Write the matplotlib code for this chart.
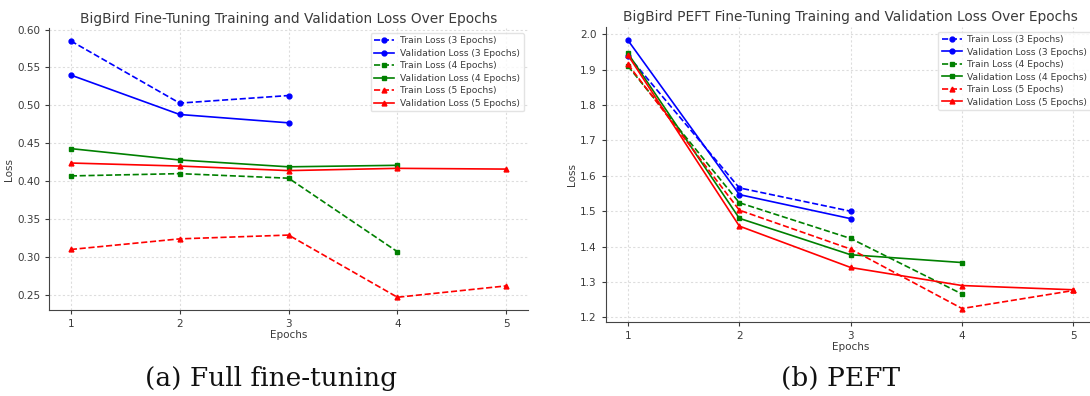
import matplotlib
matplotlib.use("Agg")
import matplotlib.pyplot as plt

epochs3 = [1, 2, 3]
epochs4 = [1, 2, 3, 4]
epochs5 = [1, 2, 3, 4, 5]

# (a) full fine-tuning
full_train3 = [0.585, 0.503, 0.513]
full_val3 = [0.540, 0.488, 0.477]
full_train4 = [0.407, 0.410, 0.404, 0.307]
full_val4 = [0.443, 0.428, 0.419, 0.421]
full_train5 = [0.310, 0.324, 0.329, 0.247, 0.262]
full_val5 = [0.424, 0.420, 0.414, 0.417, 0.416]

# (b) PEFT
peft_train3 = [1.940, 1.566, 1.500]
peft_val3 = [1.983, 1.547, 1.479]
peft_train4 = [1.910, 1.524, 1.423, 1.266]
peft_val4 = [1.946, 1.480, 1.377, 1.355]
peft_train5 = [1.915, 1.503, 1.393, 1.225, 1.276]
peft_val5 = [1.941, 1.458, 1.341, 1.290, 1.278]

text_col = '#3a3a3a'


def draw_panel(ax, title, t3, v3, t4, v4, t5, v5):
    ax.plot(epochs3, t3, 'o--', color='blue', ms=3.5, lw=1.2, label='Train Loss (3 Epochs)')
    ax.plot(epochs3, v3, 'o-', color='blue', ms=3.5, lw=1.2, label='Validation Loss (3 Epochs)')
    ax.plot(epochs4, t4, 's--', color='green', ms=3.5, lw=1.2, label='Train Loss (4 Epochs)')
    ax.plot(epochs4, v4, 's-', color='green', ms=3.5, lw=1.2, label='Validation Loss (4 Epochs)')
    ax.plot(epochs5, t5, '^--', color='red', ms=3.5, lw=1.2, label='Train Loss (5 Epochs)')
    ax.plot(epochs5, v5, '^-', color='red', ms=3.5, lw=1.2, label='Validation Loss (5 Epochs)')
    ax.set_title(title, fontsize=9.9, color=text_col, pad=4)
    ax.set_xlabel('Epochs', fontsize=7.5, color=text_col, labelpad=1)
    ax.set_ylabel('Loss', fontsize=7.5, color=text_col, labelpad=2)
    ax.set_xticks(epochs5)
    ax.set_xlim(0.8, 5.2)
    ax.tick_params(labelsize=7.5, colors=text_col, length=3, width=0.8)
    ax.grid(True, linestyle=(0, (2, 2)), color='#dddddd', linewidth=0.8)
    for s in ['top', 'right']:
        ax.spines[s].set_visible(False)
    for s in ['left', 'bottom']:
        ax.spines[s].set_color('#444444')
    leg = ax.legend(loc='upper right', fontsize=6.6, frameon=True, handlelength=2.2,
                    labelspacing=0.38, borderpad=0.4, handletextpad=0.6)
    leg.get_frame().set_edgecolor('#dddddd')
    for t in leg.get_texts():
        t.set_color(text_col)


fig = plt.figure(figsize=(10.9, 3.96), dpi=100)
ax1 = fig.add_axes([0.045, 0.217, 0.4395, 0.712])
ax2 = fig.add_axes([0.5557, 0.187, 0.4495, 0.745])

draw_panel(ax1, 'BigBird Fine-Tuning Training and Validation Loss Over Epochs',
           full_train3, full_val3, full_train4, full_val4, full_train5, full_val5)
draw_panel(ax2, 'BigBird PEFT Fine-Tuning Training and Validation Loss Over Epochs',
           peft_train3, peft_val3, peft_train4, peft_val4, peft_train5, peft_val5)

fig.text(0.249, 0.045, '(a) Full fine-tuning', fontsize=19, family='DejaVu Serif',
         ha='center', va='center', color='#111111')
fig.text(0.771, 0.045, '(b) PEFT', fontsize=19, family='DejaVu Serif',
         ha='center', va='center', color='#111111')

fig.savefig('out.png', dpi=100)
